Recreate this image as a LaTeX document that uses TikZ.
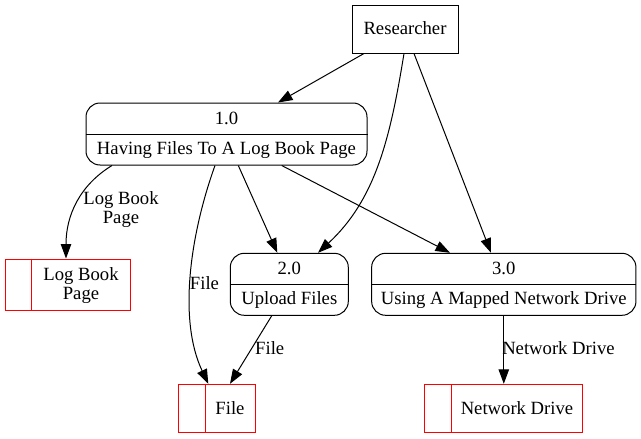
\documentclass[tikz,border=0pt]{standalone}
\usepackage{fontspec}
\setmainfont{Liberation Serif}
\usetikzlibrary{arrows.meta,calc}
\begin{document}
\begin{tikzpicture}[x=1pt,y=-1pt,
  every node/.style={font=\fontsize{18.67}{19}\selectfont, inner sep=0pt},
  ext/.style={draw, line width=1pt},
  proc/.style={draw, rounded corners=14pt, line width=1pt},
  store/.style={draw=red, line width=1pt},
  divline/.style={line width=1pt},
  sdiv/.style={draw=red, line width=1pt},
  flow/.style={line width=1pt, -{Triangle[length=14.5pt,width=10.5pt]}},
  txt/.style={anchor=base}]
\useasboundingbox (0,0) rectangle (641,439);

% external entity
\node[ext, minimum width=106, minimum height=48] (r) at (405,29) {};
\node[txt] (rt) at (405,34.3) {Researcher};

% processes
\node[proc, minimum width=281, minimum height=62] (p1) at (226.5,134) {};
\draw[divline] (p1.west) -- (p1.east);
\node[txt] (p1n) at (226.5,124) {1.0};
\node[txt] (p1t) at (226.5,154) {Having Files To A Log Book Page};

\node[proc, minimum width=118, minimum height=62] (p2) at (289.3,284.3) {};
\draw[divline] (p2.west) -- (p2.east);
\node[txt] (p2n) at (289.3,274.3) {2.0};
\node[txt] (p2t) at (289.3,304.3) {Upload Files};

\node[proc, minimum width=264.3, minimum height=62] (p3) at (503.8,284.3) {};
\draw[divline] (p3.west) -- (p3.east);
\node[txt] (p3n) at (503.8,274.3) {3.0};
\node[txt] (p3t) at (503.8,304.3) {Using A Mapped Network Drive};

% data stores
\node[store, minimum width=125, minimum height=51] (d1) at (67.5,284.5) {};
\draw[sdiv] ([xshift=26.7]d1.north west) -- ([xshift=26.7]d1.south west);
\node[align=center] (d1t) at (81,286) {Log Book\\Page};

\node[store, minimum width=76.7, minimum height=48.4] (d2) at (217.3,408.5) {};
\draw[sdiv] ([xshift=26.7]d2.north west) -- ([xshift=26.7]d2.south west);
\node[txt] (d2t) at (230,414) {File};

\node[store, minimum width=157.7, minimum height=48.4] (d3) at (503.8,408.5) {};
\draw[sdiv] ([xshift=27]d3.north west) -- ([xshift=27]d3.south west);
\node[txt] (d3t) at (517,414) {Network Drive};

% flows
\draw[flow] ([xshift=-41]r.south) -- ([xshift=51.5]p1.north);
\draw[flow] ([xshift=-1]r.south) .. controls (390,140) and (375,200) .. ([xshift=28.7]p2.north);
\draw[flow] ([xshift=9]r.south) -- ([xshift=-12.8]p3.north);

\draw[flow] ([xshift=-114.5]p1.south) .. controls (80,185) and (66,215) .. ([xshift=-1.5]d1.north);
\node[align=center] (l1) at (121,210) {Log Book\\Page};

\draw[flow] ([xshift=-11.5]p1.south) .. controls (190,235) and (178,320) .. ([xshift=-9]d2.north);
\node[txt] (l2) at (204.5,289) {File};

\draw[flow] ([xshift=11.8]p1.south) -- ([xshift=-12]p2.north);
\draw[flow] ([xshift=55.2]p1.south) -- ([xshift=-53.8]p3.north);

\draw[flow] ([xshift=-17.6]p2.south) -- ([xshift=12.7]d2.north);
\node[txt] (l3) at (269.7,354.3) {File};

\draw[flow] (p3.south) -- (d3.north);
\node[txt] (l4) at (558.5,354.3) {Network Drive};
\end{tikzpicture}
\end{document}
